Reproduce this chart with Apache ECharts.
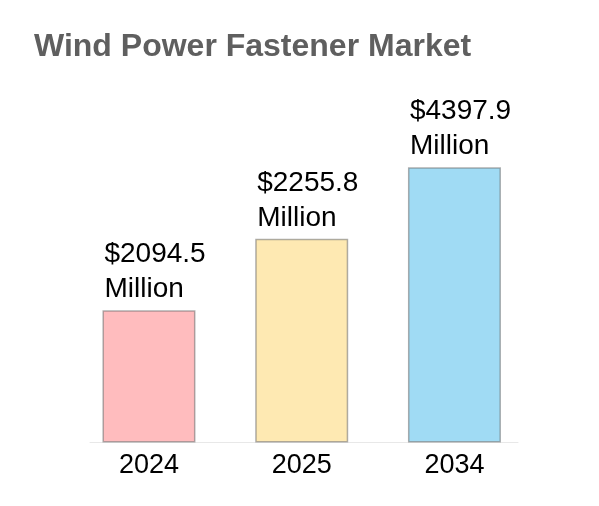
<!DOCTYPE html>
<html>
<head>
<meta charset="utf-8">
<script src="https://cdn.jsdelivr.net/npm/echarts@6/dist/echarts.min.js"></script>
<style>html,body{margin:0;padding:0;background:#fff;}#c{width:599px;height:506px;}</style>
</head>
<body>
<div id="c"></div>
<script>
const categories = ['2024', '2025', '2034'];
const values = [2094.5, 2255.8, 4397.9];
// displayed bar heights as drawn in the reference (stylised, not proportional)
const barLevels = [1.85, 2.85, 3.85];
const colors = ['#FFBCBE', '#FEE9B2', '#A0DBF4'];

const chart = echarts.init(document.getElementById('c'));
chart.setOption({
  animation: false,
  title: {
    text: 'Wind Power Fastener Market',
    left: 29, top: 26,
    textStyle: { fontFamily: 'Liberation Sans, Arial, sans-serif', fontSize: 32, fontWeight: 'bold', color: '#5f5f5f' }
  },
  grid: { left: 90, right: 81, top: 85, bottom: 63.5 },
  xAxis: {
    type: 'value', min: -0.386, max: 2.416,
    axisLine: { show: true, lineStyle: { color: '#e8e8e8', width: 1 } },
    axisTick: { show: false },
    splitLine: { show: false },
    axisLabel: {
      customValues: [0, 1, 2],
      formatter: v => categories[Math.round(v)],
      margin: 10,
      fontFamily: 'Liberation Sans, Arial, sans-serif', fontSize: 27, color: '#000'
    }
  },
  yAxis: { type: 'value', min: 0, max: 5, show: false },
  series: [{
    type: 'bar',
    barWidth: 93,
    data: barLevels.map((h, i) => ({ value: [i, h], itemStyle: { color: colors[i] } })),
    itemStyle: { borderColor: 'rgba(110,110,110,0.55)', borderWidth: 1.5 },
    label: {
      show: true,
      position: [2, -3],
      align: 'left', verticalAlign: 'bottom',
      formatter: p => '$' + values[p.dataIndex].toFixed(1) + '\nMillion',
      fontFamily: 'Liberation Sans, Arial, sans-serif', fontSize: 28, lineHeight: 35, color: '#000'
    }
  }]
});
</script>
</body>
</html>
